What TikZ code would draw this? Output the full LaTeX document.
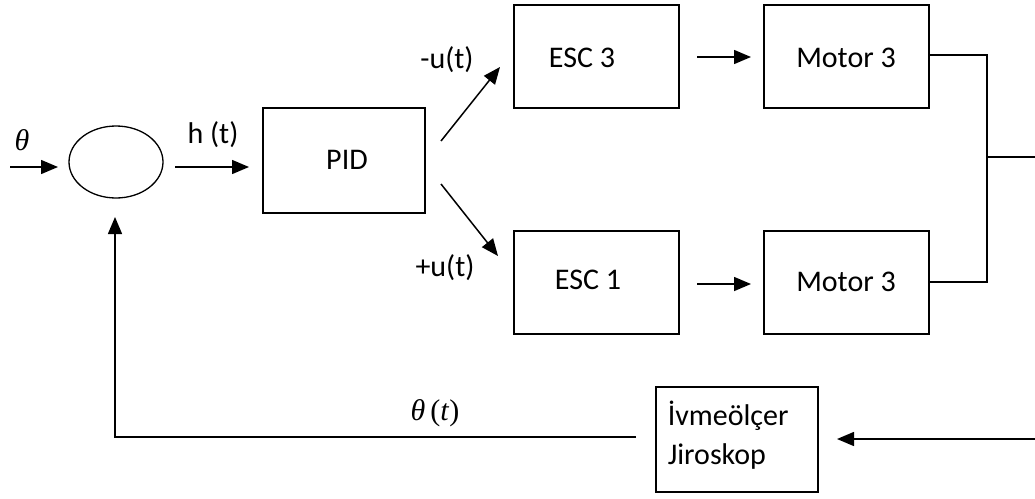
\documentclass[tikz,border=0pt]{standalone}
\usepackage{fontspec}
\setmainfont{Carlito}
\newfontfamily\grk{Liberation Serif}
\usetikzlibrary{arrows.meta,shapes.geometric}
\newcommand\thsym{{\grk\itshape θ}}
\begin{document}
\begin{tikzpicture}[x=1pt,y=-1pt,
  line width=1.5pt,
  blk/.style={draw, line width=1.3pt, minimum width=165pt, minimum height=103pt, inner sep=0pt},
  arr/.style={-{Triangle[length=17pt,width=14pt]}},
  lbl/.style={font=\fontsize{30}{36}\selectfont, inner sep=0pt}
]
\useasboundingbox (0,0) rectangle (1035,498);

% blocks
\node[draw, line width=1.3pt, ellipse, minimum width=94pt, minimum height=72pt, inner sep=0pt] (sum) at (116,162) {};
\node[blk, minimum width=162pt, minimum height=105pt] (pid) at (344,160.5) {};
\node[lbl] at (347,160) {PID};
\node[blk] (esc3) at (596.5,56.5) {};
\node[lbl] at (582,58) {ESC 3};
\node[blk] (mot3a) at (846.5,56.5) {};
\node[lbl] at (846,58) {Motor 3};
\node[blk] (esc1) at (596.5,282.5) {};
\node[lbl] at (588,280) {ESC 1};
\node[blk] (mot3b) at (846.5,282.5) {};
\node[lbl] at (846,282) {Motor 3};
\node[blk, minimum width=162pt, minimum height=105pt] (sens) at (737,439.5) {};
\node[lbl, anchor=west] at (667,416) {İvmeölçer};
\node[lbl, anchor=west] at (667,456) {Jiroskop};

% connector end points
\coordinate (inS) at (10,167);
\coordinate (inE) at (58,167);
\coordinate (hS) at (175,167);
\coordinate (hE) at (249,167);
\coordinate (upS) at (441,141);
\coordinate (upE) at (500,67);
\coordinate (dnS) at (441,184);
\coordinate (dnE) at (498,256);
\coordinate (m1S) at (697,57);
\coordinate (m1E) at (751,57);
\coordinate (m2S) at (697,284);
\coordinate (m2E) at (751,284);
\coordinate (joinX) at (987,157);
\coordinate (outE) at (1035,157);
\coordinate (fbIn) at (1035,439);
\coordinate (fbTip) at (837,439);
\coordinate (fbS) at (636,437);
\coordinate (fbC) at (115,437);
\coordinate (fbE) at (115,217);

% signal flow
\draw[arr] (inS) -- (inE);
\draw[arr] (hS) -- (hE);
\draw[arr] (upS) -- (upE);
\draw[arr] (dnS) -- (dnE);
\draw[arr] (m1S) -- (m1E);
\draw[arr] (m2S) -- (m2E);
\draw (mot3a.east |- 0,55) -- (joinX |- 0,55) -- (joinX |- 0,282) -- (mot3b.east |- 0,282);
\draw (joinX) -- (outE);
\draw[arr] (fbIn) -- (fbTip);
\draw[arr] (fbS) -- (fbC) -- (fbE);

% labels
\node[lbl] at (22,140) {\thsym};
\node[lbl] at (213,135) {h (t)};
\node[lbl] at (447,60) {-u(t)};
\node[lbl] at (445,268) {+u(t)};
\node[lbl] at (435,413) {\thsym{\grk\,(\textit{t})}};
\end{tikzpicture}
\end{document}
